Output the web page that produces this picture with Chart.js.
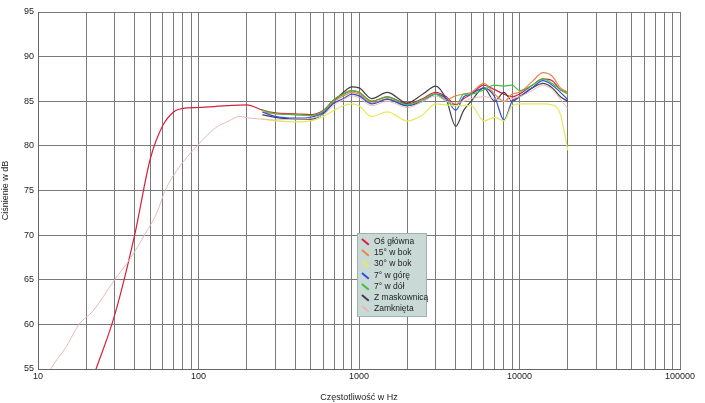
<!DOCTYPE html>
<html><head><meta charset="utf-8">
<script src="https://cdn.jsdelivr.net/npm/chart.js@4"></script>
<style>
body{margin:0;background:#fff;font-family:"Liberation Sans",Arial,sans-serif}
#wrap{position:relative;width:705px;height:403px}
#legend{position:absolute;left:357px;top:233px;width:70px;height:84px;background:#c9dad6;border:1px solid #9fb1ad;font-size:8.5px;color:#222;box-sizing:border-box;padding:2px 0 0 3px;line-height:11.2px}
#legend div{white-space:nowrap}
#legend i{display:inline-block;width:9px;height:1.5px;transform:rotate(40deg);margin-right:4px;vertical-align:middle}
</style></head><body>
<div id="wrap"><canvas id="c" width="705" height="403"></canvas>
<div id="legend"></div></div>
<script>
const seriesNames=["Oś główna","15° w bok","30° w bok","7° w górę","7° w dół","Z maskownicą","Zamknięta"];
const seriesColors=["#d8203a","#e8864a","#e4ea5a","#3050d8","#40c040","#404040","#e8b8b8"];
const fLowMain=[20,23,30,40,50,60,70,80,100,150,200];
const vLowMain=[52,55,61,70,78.5,82.3,83.8,84.2,84.3,84.5,84.6];
const fLowClosed=[10,12,15,18,22,30,38,46,55,62,75,98,127,155,180,210];
const vLowClosed=[52,55,57.5,60,61.5,65,67.5,70,72.5,75,77.5,80,82,82.8,83.3,83.1];
const fMid=[250,300,400,500,600,700,800,900,1000,1200,1500,2000,2500,3000,3500,4000,4500,5000,6000,7000,8000,9000,10000,12000,14000,16000,18000,20000];
const vMain=[84,83.7,83.6,83.5,84,85.2,85.8,86.2,86,85,85.5,84.7,85.3,86,85.5,84.6,85.3,85.8,86.8,86.3,85.8,85.5,85.8,86.8,87.5,87.3,86.3,86];
const v15=[83.8,83.6,83.5,83.4,83.8,85,85.6,86,85.8,84.8,85.3,84.5,85.2,85.8,85.2,85.6,85.8,86,87,85.8,85,85.8,86,87.2,88.2,87.8,86.5,86];
const v30=[83,82.8,82.7,82.8,83.3,84,84.5,84.7,84.5,83.3,83.8,82.8,83.5,84.7,84.6,84.5,84.5,84.5,82.8,83.2,82.8,84.5,84.7,84.7,84.7,84.6,83.5,79.5];
const vUp=[83.8,83.3,83.1,83.2,83.7,84.8,85.3,85.8,85.6,84.7,85.2,84.5,85,85.8,85.3,84,85.5,85.8,86.5,85.5,82.9,85,85.5,86.5,87.3,86.8,86,85.2];
const vDown=[84,83.6,83.5,83.4,83.9,85.2,85.8,86.2,86,85,85.5,84.6,85.2,85.8,85,84.5,85.8,85.8,86.3,86.8,86.7,86.8,86.2,86.8,87.5,87,86.3,85.8];
const vGrille=[83.5,83.2,83,83,83.6,85,86,86.6,86.5,85.3,86,84.8,85.8,86.7,85.2,82.2,84,85,86.5,85,86,85,85.5,86.5,87,86.5,85.5,85];
const vClosed=[83,82.9,83,83.1,83.5,84.6,85.2,85.6,85.4,84.5,85,84.3,85,85.6,85,84.8,85,85.3,85.5,85.3,85,85.3,85.5,86.2,86.8,86.3,85.2,84.2];
const xTicks=[10,100,1000,10000,100000];
const yMin=55,yMax=95,yStep=5;

const pts=(f,v)=>f.map((x,i)=>({x:x,y:v[i]}));
const datasets=[
 {data:pts(fLowClosed.concat(fMid),vLowClosed.concat(vClosed)),c:6},
 {data:pts(fMid,v30),c:2},
 {data:pts(fMid,vDown),c:4},
 {data:pts(fMid,vUp),c:3},
 {data:pts(fMid,v15),c:1},
 {data:pts(fMid,vGrille),c:5},
 {data:pts(fLowMain.concat(fMid),vLowMain.concat(vMain)),c:0},
].map(d=>({label:seriesNames[d.c],data:d.data,borderColor:seriesColors[d.c],borderWidth:d.c==6?1:1.2,pointRadius:0,showLine:true,cubicInterpolationMode:'monotone',fill:false}));

new Chart(document.getElementById('c'),{
 type:'scatter',data:{datasets},
 options:{responsive:false,animation:false,
  layout:{padding:{top:12,right:25,left:0,bottom:0}},
  plugins:{legend:{display:false},tooltip:{enabled:false}},
  scales:{
   x:{type:'logarithmic',min:10,max:100000,
     afterFit:s=>{s.height=34},
     afterBuildTicks:s=>{const t=[];for(let d=10;d<100000;d*=10)for(let k=1;k<10;k++)t.push({value:d*k});t.push({value:100000});s.ticks=t;},
     ticks:{autoSkip:false,maxRotation:0,color:'#222',font:{size:9,family:'Liberation Sans'},padding:2,callback:v=>xTicks.includes(v)?String(v):''},
     grid:{color:'#7a7a7a',lineWidth:1,drawTicks:false},border:{color:'#666'},
     title:{display:true,text:'Częstotliwość w Hz',color:'#222',font:{size:9,family:'Liberation Sans'},padding:0}},
   y:{min:yMin,max:yMax,afterFit:s=>{s.width=38},
     ticks:{stepSize:yStep,color:'#222',font:{size:9,family:'Liberation Sans'},padding:4},
     grid:{color:'#7a7a7a',lineWidth:1,drawTicks:false},border:{color:'#666'},
     title:{display:true,text:'Ciśnienie w dB',color:'#222',font:{size:9,family:'Liberation Sans'},padding:0}}
  }}
});
const lg=document.getElementById('legend');
seriesNames.forEach((n,i)=>{const d=document.createElement('div');d.innerHTML='<i style="background:'+seriesColors[i]+'"></i>'+n;lg.appendChild(d);});
</script></body></html>
